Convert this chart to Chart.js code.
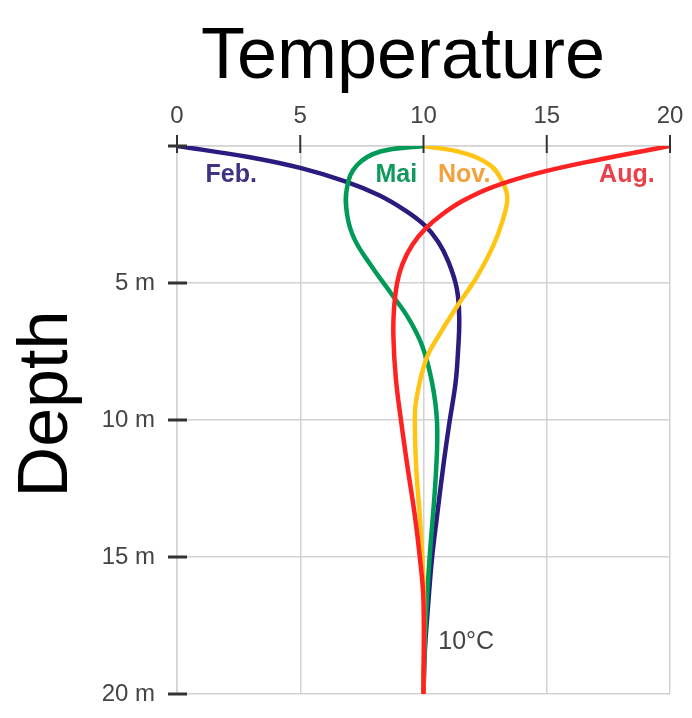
<!DOCTYPE html>
<html>
<head>
<meta charset="utf-8">
<script src="https://cdn.jsdelivr.net/npm/chart.js@4"></script>
<style>
  body { margin: 0; background: #fff; }
  canvas { display: block; }
</style>
</head>
<body>
<canvas id="tempChart" width="692" height="718"></canvas>
<script>
// temperature (°C) at depth (m)
const febDepth = [0, 0.4, 0.8, 1.3, 1.8, 2.35, 2.9, 3.5, 4.2, 5.2, 6.3, 7.5, 8.65, 10.1, 11.7, 13.5, 15, 16.6, 18.5, 20];
const febTemp  = [0, 2.9, 5.0, 6.85, 8.2, 9.25, 10.05, 10.6, 11.0, 11.35, 11.45, 11.4, 11.3, 11.05, 10.8, 10.55, 10.35, 10.2, 10.05, 10];

const maiDepth = [0, 0.2, 0.7, 1.5, 2.5, 3.4, 4.4, 5.4, 6.3, 7.3, 8.65, 10.1, 12, 15, 17.5, 20];
const maiTemp  = [10, 8.25, 7.3, 6.9, 6.9, 7.2, 7.9, 8.7, 9.4, 9.95, 10.35, 10.55, 10.5, 10.25, 10.08, 10];

const novDepth = [0, 0.25, 0.7, 1.3, 1.9, 2.75, 3.7, 4.8, 5.8, 6.8, 7.8, 9.3, 10.1, 11.7, 13.5, 15, 16.6, 20];
const novTemp  = [10, 11.6, 12.7, 13.2, 13.4, 13.2, 12.8, 12.15, 11.4, 10.7, 10.1, 9.7, 9.65, 9.7, 9.85, 9.95, 10.02, 10];

const augDepth = [0, 0.5, 1.0, 1.5, 2.0, 2.5, 3.0, 3.6, 4.3, 5.0, 6.0, 7.0, 8.5, 10.1, 11.7, 13.5, 15, 16.6, 20];
const augTemp  = [20, 17.1, 14.6, 12.8, 11.6, 10.75, 10.1, 9.55, 9.15, 8.93, 8.8, 8.78, 8.88, 9.1, 9.35, 9.65, 9.85, 10.0, 10];

const tempTicks = [0, 5, 10, 15, 20];
const depthTicks = [0, 5, 10, 15, 20];
const depthTickLabels = ['', '5 m', '10 m', '15 m', '20 m'];

// in-plot labels, anchored in data units
const curveLabels = [
  { text: 'Feb.', temp: 2.2, depth: 1.06, color: '#3e3282' },
  { text: 'Mai', temp: 8.9, depth: 1.06, color: '#119a5e' },
  { text: 'Nov.', temp: 11.65, depth: 1.06, color: '#f2a13c' },
  { text: 'Aug.', temp: 18.25, depth: 1.06, color: '#ec3f47' }
];

function toPoints(temps, depths) {
  return temps.map((t, i) => ({ x: t, y: depths[i] }));
}

const gridColor = '#d2d2d2';
const labelFont = '"Liberation Sans", Arial, sans-serif';

const decorations = {
  id: 'decorations',
  afterDraw(chart) {
    const { ctx, scales: { x, y } } = chart;
    ctx.save();

    // tick marks crossing the axes
    ctx.strokeStyle = '#333';
    ctx.lineWidth = 2;
    tempTicks.forEach((v) => {
      const px = x.getPixelForValue(v);
      ctx.beginPath();
      ctx.moveTo(px, y.top - 11);
      ctx.lineTo(px, y.top + 7);
      ctx.stroke();
    });
    ctx.lineWidth = 3;
    depthTicks.forEach((v) => {
      const py = y.getPixelForValue(v);
      ctx.beginPath();
      ctx.moveTo(x.left - 9, py);
      ctx.lineTo(x.left + 10, py);
      ctx.stroke();
    });

    // curve names
    ctx.font = 'bold 25px ' + labelFont;
    ctx.textAlign = 'center';
    ctx.textBaseline = 'middle';
    curveLabels.forEach((l) => {
      ctx.fillStyle = l.color;
      ctx.fillText(l.text, x.getPixelForValue(l.temp), y.getPixelForValue(l.depth));
    });

    ctx.font = '25px ' + labelFont;
    ctx.fillStyle = '#444';
    ctx.textAlign = 'left';
    ctx.fillText('10°C', x.getPixelForValue(10.6), y.getPixelForValue(18.1));

    // titles
    ctx.fillStyle = '#000';
    ctx.font = '72px ' + labelFont;
    ctx.textAlign = 'center';
    ctx.textBaseline = 'alphabetic';
    ctx.fillText('Temperature', 403, 78);

    ctx.font = '70px ' + labelFont;
    ctx.translate(67, 404);
    ctx.rotate(-Math.PI / 2);
    ctx.fillText('Depth', 0, 0);

    ctx.restore();
  }
};

const lineStyle = { showLine: true, pointRadius: 0, borderWidth: 4.5, tension: 0.4, fill: false };

new Chart(document.getElementById('tempChart'), {
  type: 'scatter',
  data: {
    datasets: [
      { label: 'Aug.', data: toPoints(augTemp, augDepth), borderColor: '#ff2222', ...lineStyle },
      { label: 'Nov.', data: toPoints(novTemp, novDepth), borderColor: '#ffc414', ...lineStyle },
      { label: 'Mai', data: toPoints(maiTemp, maiDepth), borderColor: '#009a58', ...lineStyle },
      { label: 'Feb.', data: toPoints(febTemp, febDepth), borderColor: '#2b1b7e', ...lineStyle }
    ]
  },
  options: {
    responsive: false,
    animation: false,
    layout: { padding: { left: 0, right: 22, top: 0, bottom: 24 } },
    plugins: {
      legend: { display: false },
      tooltip: { enabled: false }
    },
    scales: {
      x: {
        type: 'linear',
        position: 'top',
        min: 0,
        max: 20,
        afterBuildTicks: (scale) => { scale.ticks = tempTicks.map((v) => ({ value: v })); },
        afterFit: (scale) => {
          scale.height = 146;
          scale.paddingLeft = 0;
          scale.paddingRight = 0;
        },
        ticks: {
          padding: 15,
          color: '#444',
          font: { family: labelFont, size: 24 }
        },
        grid: { color: gridColor, lineWidth: 1.5, drawTicks: false },
        border: { color: gridColor, width: 1.5 }
      },
      y: {
        type: 'linear',
        reverse: true,
        min: 0,
        max: 20,
        afterBuildTicks: (scale) => { scale.ticks = depthTicks.map((v) => ({ value: v })); },
        afterFit: (scale) => {
          scale.width = 177;
          scale.paddingTop = 0;
          scale.paddingBottom = 0;
        },
        ticks: {
          padding: 22,
          color: '#444',
          font: { family: labelFont, size: 24 },
          callback: (value) => depthTickLabels[depthTicks.indexOf(value)]
        },
        grid: { color: gridColor, lineWidth: 1.5, drawTicks: false },
        border: { color: gridColor, width: 1.5 }
      }
    }
  },
  plugins: [decorations]
});
</script>
</body>
</html>
